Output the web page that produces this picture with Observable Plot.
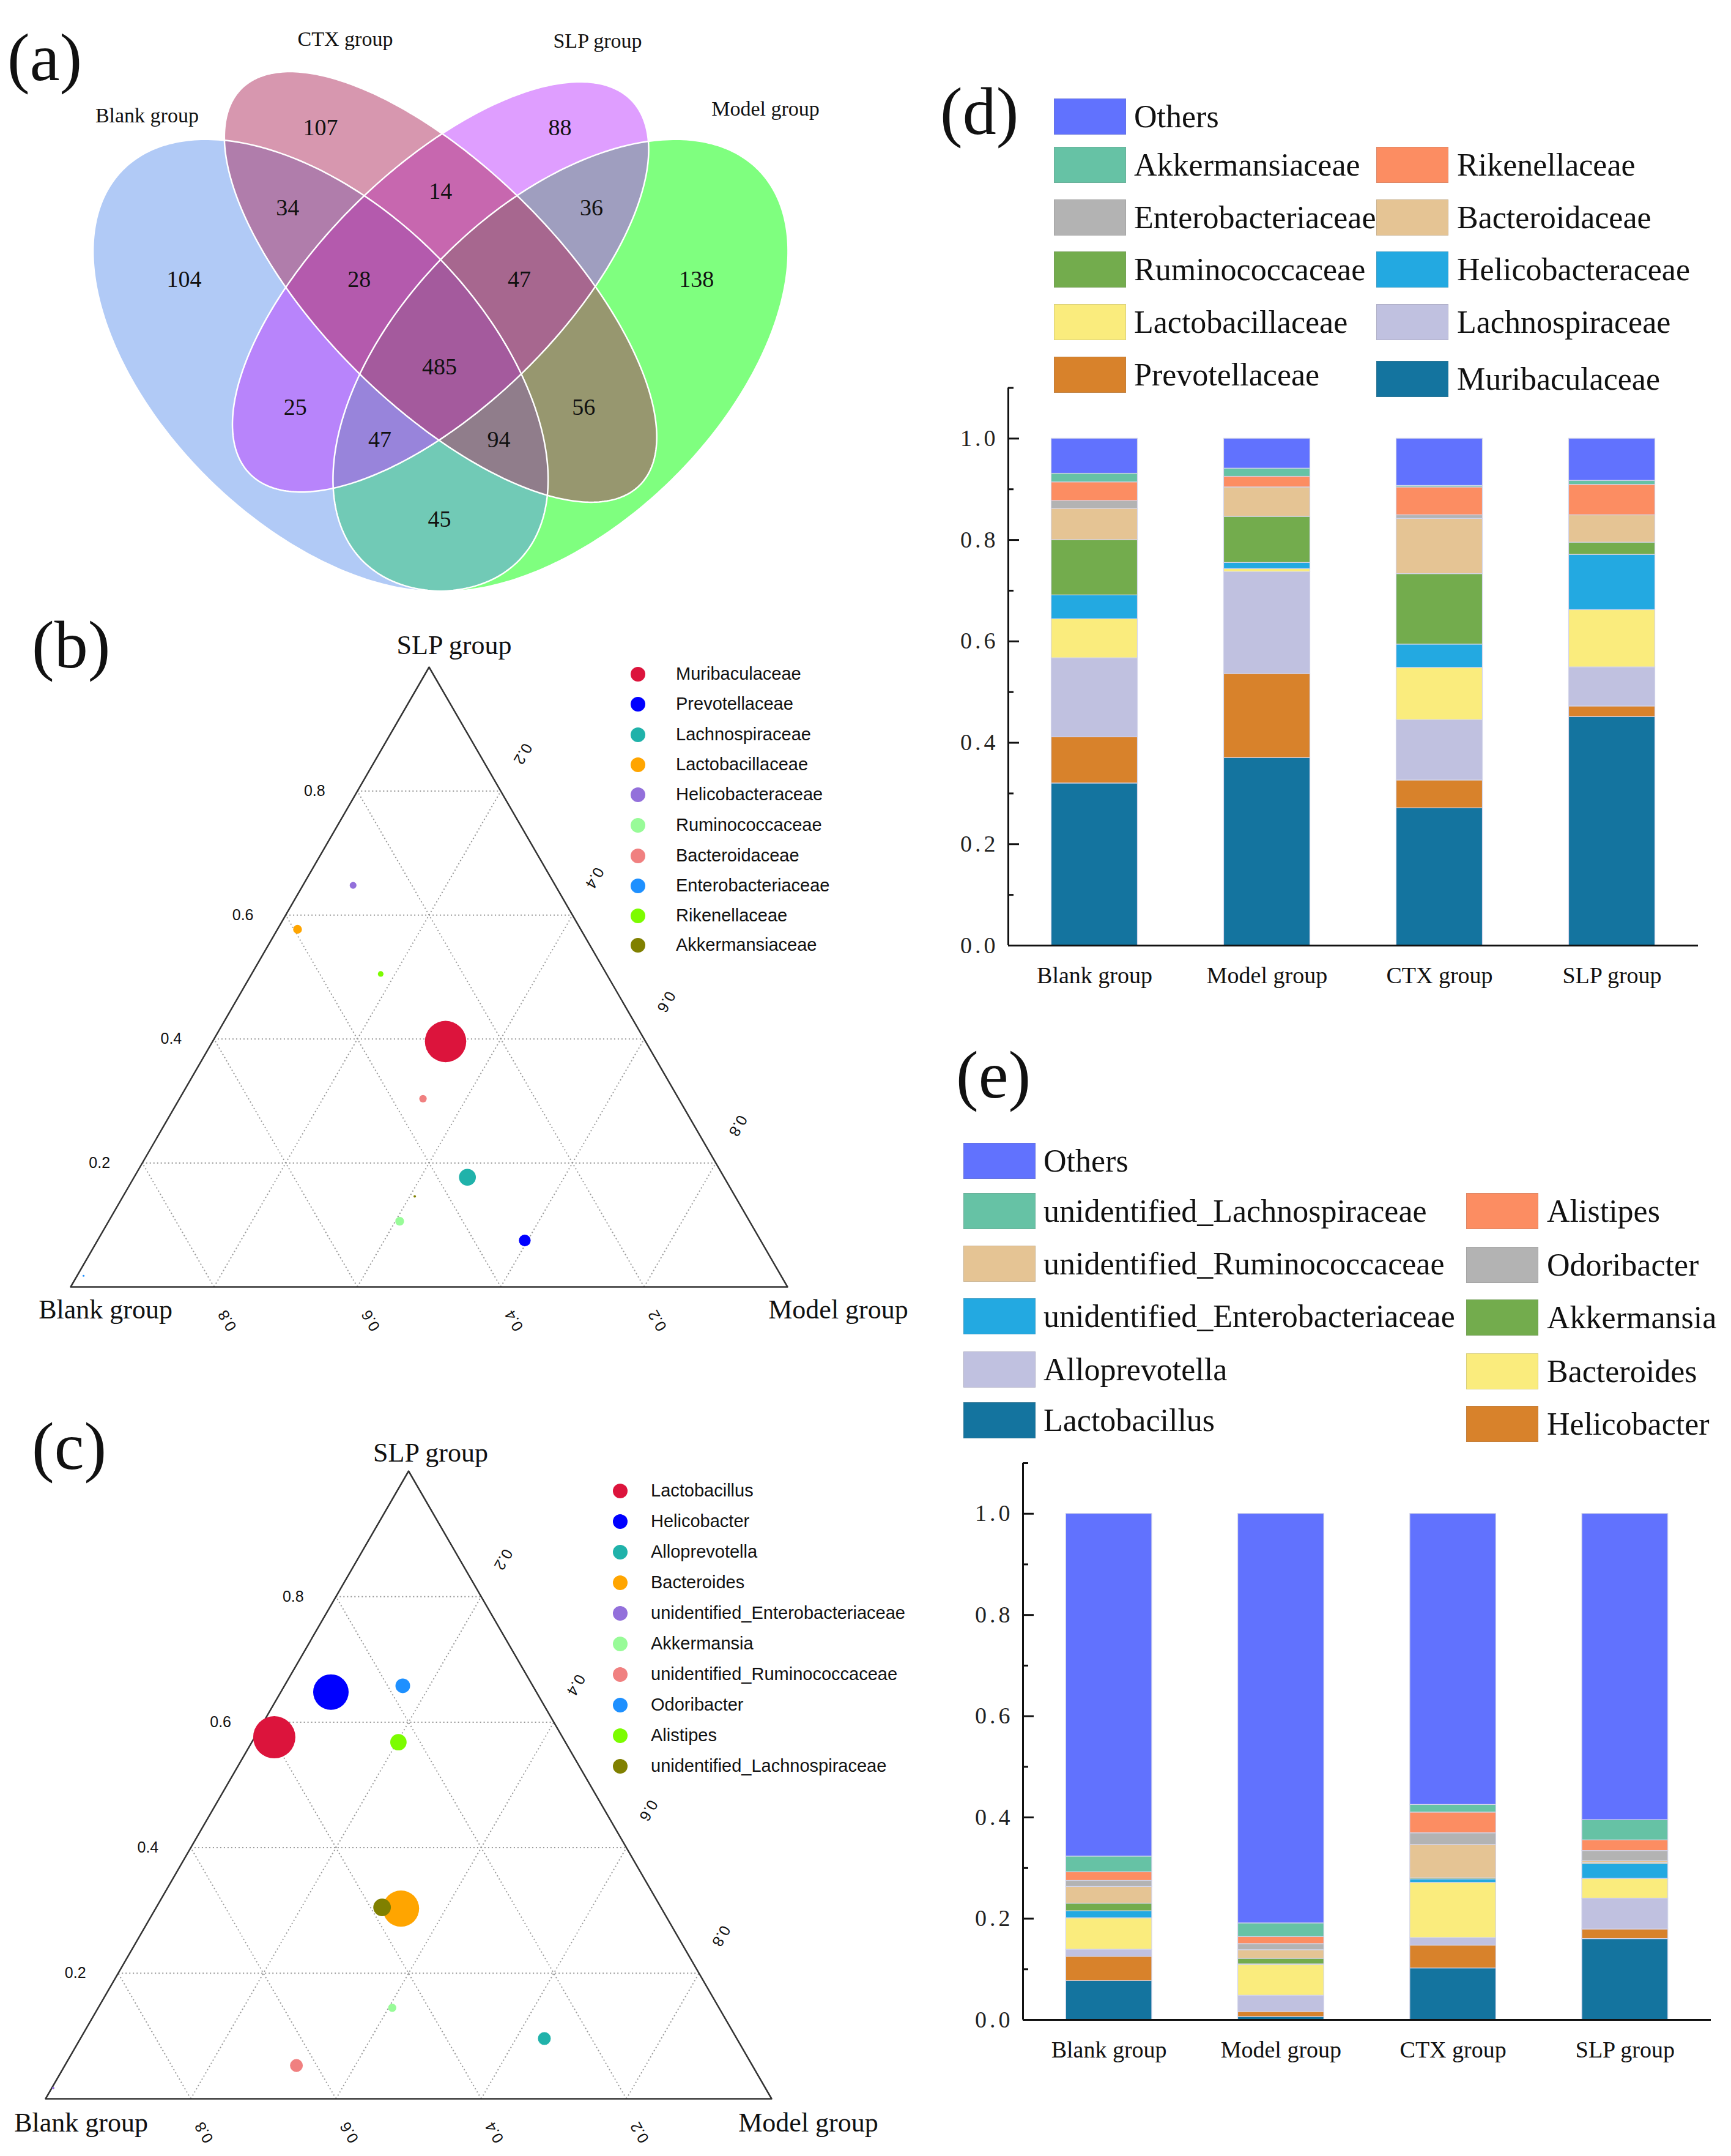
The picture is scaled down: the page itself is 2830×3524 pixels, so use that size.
<!DOCTYPE html>
<html>
<head>
<meta charset="utf-8">
<script src="https://cdn.jsdelivr.net/npm/d3@7"></script>
<script src="https://cdn.jsdelivr.net/npm/@observablehq/plot@0.6"></script>
<style>
  html, body { margin: 0; padding: 0; background: #fff; }
  #page { position: relative; width: 2830px; height: 3524px; overflow: hidden; background: #fff; }
  .letter { position: absolute; font-family: "Liberation Serif", "Times New Roman", serif; font-size: 110px; line-height: 110px; color: #111; white-space: nowrap; }
  .sw { position: absolute; box-sizing: border-box; border: 1px solid rgba(120,120,120,0.25); }
  .swtext { position: absolute; font-family: "Liberation Serif", "Times New Roman", serif; font-size: 52px; line-height: 52px; color: #111; white-space: nowrap; }
  .tdot { position: absolute; width: 24px; height: 24px; border-radius: 50%; }
  .ttext { position: absolute; font-family: "Liberation Sans", Arial, sans-serif; font-size: 29px; line-height: 29px; color: #111; white-space: nowrap; }
</style>
</head>
<body>
<div id="page"></div>
<script>
// ======================= DATA =======================
const groups = ["Blank group", "Model group", "CTX group", "SLP group"];

// (a) Venn: OTU counts per region
const vennSets = ["Blank group", "CTX group", "SLP group", "Model group"];
const vennRegions = ["Blank", "CTX", "SLP", "Model", "Blank&CTX", "CTX&SLP", "SLP&Model", "Blank&Model",
  "Blank&SLP", "CTX&Model", "Blank&CTX&SLP", "CTX&SLP&Model", "Blank&SLP&Model", "Blank&CTX&Model", "All"];
const vennCounts = [104, 107, 88, 138, 34, 14, 36, 45, 25, 56, 28, 47, 47, 94, 485];

// ternary axis tick values
const ternTicks = [0.2, 0.4, 0.6, 0.8];

// (b) ternary, family level (relative shares Blank / Model / SLP, mean abundance)
const famTernNames = ["Muribaculaceae", "Prevotellaceae", "Lachnospiraceae", "Lactobacillaceae", "Helicobacteraceae",
  "Ruminococcaceae", "Bacteroidaceae", "Enterobacteriaceae", "Rikenellaceae", "Akkermansiaceae"];
const famTernBlank = [0.279, 0.329, 0.358, 0.395, 0.282, 0.488, 0.357, 0.973, 0.315, 0.447];
const famTernModel = [0.325, 0.596, 0.465, 0.028, 0.070, 0.406, 0.340, 0.009, 0.180, 0.407];
const famTernSLP   = [0.396, 0.075, 0.177, 0.577, 0.648, 0.106, 0.304, 0.018, 0.505, 0.146];
const famTernAbund = [0.964, 0.242, 0.367, 0.170, 0.122, 0.170, 0.137, 0.003, 0.093, 0.015];

// (c) ternary, genus level
const genTernNames = ["Lactobacillus", "Helicobacter", "Alloprevotella", "Bacteroides", "unidentified_Enterobacteriaceae",
  "Akkermansia", "unidentified_Ruminococcaceae", "Odoribacter", "Alistipes", "unidentified_Lachnospiraceae"];
const genTernBlank = [0.397, 0.283, 0.265, 0.359, 0.981, 0.450, 0.628, 0.179, 0.230, 0.384];
const genTernModel = [0.027, 0.069, 0.639, 0.338, 0.002, 0.405, 0.319, 0.163, 0.202, 0.311];
const genTernSLP   = [0.576, 0.648, 0.096, 0.303, 0.017, 0.145, 0.053, 0.658, 0.568, 0.305];
const genTernAbund = [0.985, 0.821, 0.269, 0.842, 0.015, 0.155, 0.269, 0.313, 0.355, 0.385];

const ternColors = ["#DC143C", "#0000FF", "#20B2AA", "#FFA500", "#9370DB", "#98FB98", "#F08080", "#1E90FF", "#7CFC00", "#808000"];

// (d) family relative abundance, values per group [Blank, Model, CTX, SLP]; stack order bottom -> top
const famSeries = ["Muribaculaceae", "Prevotellaceae", "Lachnospiraceae", "Lactobacillaceae", "Helicobacteraceae",
  "Ruminococcaceae", "Bacteroidaceae", "Enterobacteriaceae", "Rikenellaceae", "Akkermansiaceae", "Others"];
const famMuribaculaceae     = [0.320, 0.370, 0.271, 0.451];
const famPrevotellaceae     = [0.091, 0.166, 0.055, 0.021];
const famLachnospiraceae    = [0.156, 0.201, 0.119, 0.077];
const famLactobacillaceae   = [0.077, 0.006, 0.103, 0.113];
const famHelicobacteraceae  = [0.047, 0.012, 0.046, 0.109];
const famRuminococcaceae    = [0.109, 0.091, 0.139, 0.024];
const famBacteroidaceae     = [0.062, 0.058, 0.109, 0.054];
const famEnterobacteriaceae = [0.015, 0.000, 0.007, 0.000];
const famRikenellaceae      = [0.037, 0.021, 0.055, 0.060];
const famAkkermansiaceae    = [0.017, 0.016, 0.003, 0.008];
const famOthers             = [0.069, 0.059, 0.093, 0.083];
const famColors = ["#14749F", "#D8822B", "#C0C1E0", "#FAEC7D", "#23A9E1", "#73AC4D", "#E5C494", "#B3B3B3", "#FC8D62", "#66C2A5", "#6172FE"];
const famLegendCol1 = ["Others", "Akkermansiaceae", "Enterobacteriaceae", "Ruminococcaceae", "Lactobacillaceae", "Prevotellaceae"];
const famLegendCol2 = ["Rikenellaceae", "Bacteroidaceae", "Helicobacteraceae", "Lachnospiraceae", "Muribaculaceae"];

// (e) genus relative abundance
const genSeries = ["Lactobacillus", "Helicobacter", "Alloprevotella", "Bacteroides", "unidentified_Enterobacteriaceae",
  "Akkermansia", "unidentified_Ruminococcaceae", "Odoribacter", "Alistipes", "unidentified_Lachnospiraceae", "Others"];
const genLactobacillus   = [0.077, 0.006, 0.102, 0.160];
const genHelicobacter    = [0.048, 0.010, 0.045, 0.019];
const genAlloprevotella  = [0.014, 0.032, 0.015, 0.061];
const genBacteroides     = [0.062, 0.061, 0.109, 0.039];
const genUnidEntero      = [0.014, 0.001, 0.007, 0.029];
const genAkkermansia     = [0.015, 0.011, 0.002, 0.002];
const genUnidRumino      = [0.033, 0.017, 0.066, 0.004];
const genOdoribacter     = [0.012, 0.012, 0.023, 0.020];
const genAlistipes       = [0.017, 0.014, 0.041, 0.021];
const genUnidLachno      = [0.031, 0.027, 0.015, 0.040];
const genOthers          = [0.677, 0.809, 0.575, 0.605];
const genColors = ["#14749F", "#D8822B", "#C0C1E0", "#FAEC7D", "#23A9E1", "#73AC4D", "#E5C494", "#B3B3B3", "#FC8D62", "#66C2A5", "#6172FE"];
const genLegendCol1 = ["Others", "unidentified_Lachnospiraceae", "unidentified_Ruminococcaceae", "unidentified_Enterobacteriaceae", "Alloprevotella", "Lactobacillus"];
const genLegendCol2 = ["Alistipes", "Odoribacter", "Akkermansia", "Bacteroides", "Helicobacter"];

// bar-chart y ticks
const yTicksMajor = [0, 0.2, 0.4, 0.6, 0.8, 1.0];
const yTicksMinor = [0.1, 0.3, 0.5, 0.7, 0.9, 1.1];

// ======================= LAYOUT =======================
const SERIF = "Liberation Serif, Times New Roman, serif";
const SANS = "Liberation Sans, Arial, sans-serif";
const page = document.getElementById("page");
function put(el, left, top) { el.style.position = "absolute"; el.style.left = left + "px"; el.style.top = top + "px"; page.appendChild(el); return el; }
function div(cls, text) { const d = document.createElement("div"); d.className = cls; if (text != null) d.textContent = text; return d; }

// panel letters
[["(a)", 12, 39], ["(b)", 52, 999], ["(c)", 52, 2309], ["(d)", 1537, 127], ["(e)", 1563, 1702]]
  .forEach(([t, l, tp]) => put(div("letter", t), l, tp));

// ---------- (a) Venn ----------
// ellipse geometry (Venn layout units)
const vennShapes = [
  {set: "Model group", cx: 1088, cy: 945, a: 647, b: 345, angle: 120.3, color: "#00FF00"},
  {set: "Blank group", cx: 622, cy: 945, a: 647, b: 345, angle: 59.7, color: "#6495ED"},
  {set: "SLP group", cx: 855, cy: 742, a: 615, b: 259, angle: 123.8, color: "#BF3EFF"},
  {set: "CTX group", cx: 855, cy: 742, a: 648, b: 259, angle: 56.2, color: "#B03060"}
];
const vennLabelPos = [[357, 722], [622, 330], [1087, 330], [1352, 722], [558, 538], [855, 495], [1148, 538], [853, 1343],
  [573, 1053], [1133, 1053], [697, 722], [1008, 722], [737, 1137], [968, 1137], [853, 950]];
const vennSetLabelPos = [[285, 298], [670, 100], [1160, 105], [1486, 282]];

function outline(e) {
  const pts = [], p = e.angle * Math.PI / 180;
  for (let i = 0; i < 360; i++) {
    const t = 2 * Math.PI * i / 360, ca = Math.cos(t), sa = Math.sin(t);
    pts.push({x: e.cx + e.a * ca * Math.cos(p) - e.b * sa * Math.sin(p), y: e.cy + e.a * ca * Math.sin(p) + e.b * sa * Math.cos(p)});
  }
  return pts;
}
const vennOutlines = vennShapes.map(outline);
const vennRows = vennRegions.map((r, i) => ({region: r, count: vennCounts[i], x: vennLabelPos[i][0], y: vennLabelPos[i][1]}));
const vennSetRows = vennSets.map((s, i) => ({set: s, x: vennSetLabelPos[i][0], y: vennSetLabelPos[i][1]}));

const vennPlot = Plot.plot({
  width: 1400, height: 1000, margin: 0,
  style: {background: "transparent", overflow: "visible"},
  x: {domain: [0, 1568], range: [0, 1320], axis: null},
  y: {domain: [0, 1568], range: [0, 990], axis: null},
  marks: [
    ...vennShapes.map((e, i) => Plot.line(vennOutlines[i], {x: "x", y: "y", fill: e.color, fillOpacity: 0.5, stroke: "none", curve: "linear-closed"})),
    ...vennShapes.map((e, i) => Plot.line(vennOutlines[i], {x: "x", y: "y", stroke: "white", strokeWidth: 2.5, curve: "linear-closed"})),
    Plot.text(vennRows, {x: "x", y: "y", text: "count", fontSize: 38, fontFamily: SERIF, fill: "#111"}),
    Plot.text(vennSetRows, {x: "x", y: "y", text: "set", fontSize: 34, fontFamily: SERIF, fill: "#111"})
  ]
});
put(vennPlot, 0, 0);

// ---------- (b), (c) ternary ----------
function ternaryPanel(cfg) {
  const toXY = (bl, mo, sl) => ({x: mo + sl / 2, y: sl});
  const rows = cfg.names.map((n, i) => {
    const s = cfg.blank[i] + cfg.model[i] + cfg.slp[i];
    return {name: n, abund: cfg.abund[i], ...toXY(cfg.blank[i] / s, cfg.model[i] / s, cfg.slp[i] / s)};
  });
  const verts = [toXY(1, 0, 0), toXY(0, 1, 0), toXY(0, 0, 1)];
  const grid = [];
  for (const v of ternTicks) {
    for (const [p, q] of [[toXY(1 - v, 0, v), toXY(0, 1 - v, v)], [toXY(1 - v, v, 0), toXY(0, v, 1 - v)], [toXY(v, 1 - v, 0), toXY(v, 0, 1 - v)]])
      grid.push({x1: p.x, y1: p.y, x2: q.x, y2: q.y});
  }
  const leftLab = ternTicks.map(v => ({v, ...toXY(1 - v, 0, v)}));
  const rightLab = ternTicks.map(v => ({v, ...toXY(0, v, 1 - v)}));
  const bottomLab = ternTicks.map(v => ({v, ...toXY(v, 1 - v, 0)}));
  const fmt = v => v.toFixed(1);
  const vl = cfg.vertexOffsets;
  const plot = Plot.plot({
    width: 1500, height: cfg.height, margin: 0,
    style: {background: "transparent", overflow: "visible"},
    x: {domain: [0, 1], range: cfg.xRange, axis: null},
    y: {domain: [0, 1], range: cfg.yRange, axis: null},
    r: {type: "linear", domain: [0, 1], range: [1.5, 35]},
    color: {domain: cfg.names, range: ternColors},
    marks: [
      Plot.link(grid, {x1: "x1", y1: "y1", x2: "x2", y2: "y2", stroke: "#9a9a9a", strokeWidth: 2, strokeDasharray: "2,4"}),
      Plot.line(verts, {x: "x", y: "y", curve: "linear-closed", stroke: "#333", strokeWidth: 2.5}),
      Plot.text(leftLab, {x: "x", y: "y", text: d => fmt(d.v), dx: -70, fontSize: 25, fontFamily: SANS, fill: "#111"}),
      Plot.text(rightLab, {x: "x", y: "y", text: d => fmt(d.v), dx: 36, dy: -61, rotate: 120, fontSize: 25, fontFamily: SANS, fill: "#111"}),
      Plot.text(bottomLab, {x: "x", y: "y", text: d => fmt(d.v), dx: 22, dy: 55, rotate: -120, fontSize: 25, fontFamily: SANS, fill: "#111"}),
      Plot.text([verts[2]], {x: "x", y: "y", text: () => "SLP group", dx: vl[0][0], dy: vl[0][1], fontSize: 44, fontFamily: SERIF, fill: "#111"}),
      Plot.text([verts[0]], {x: "x", y: "y", text: () => "Blank group", dx: vl[1][0], dy: vl[1][1], fontSize: 44, fontFamily: SERIF, fill: "#111"}),
      Plot.text([verts[1]], {x: "x", y: "y", text: () => "Model group", dx: vl[2][0], dy: vl[2][1], fontSize: 44, fontFamily: SERIF, fill: "#111"}),
      Plot.dot(rows, {x: "x", y: "y", r: "abund", fill: "name", stroke: "none"})
    ]
  });
  put(plot, 0, cfg.top);
  // legend
  cfg.names.forEach((n, i) => {
    const y = cfg.legendRows[i];
    const d = put(div("tdot"), cfg.legendDotX - 12, y - 12);
    d.style.background = ternColors[i];
    put(div("ttext", n), cfg.legendTextX, y - 15);
  });
}

ternaryPanel({
  names: famTernNames, blank: famTernBlank, model: famTernModel, slp: famTernSLP, abund: famTernAbund,
  top: 1000, height: 1230, xRange: [115, 1287], yRange: [1103, 90],
  vertexOffsets: [[41, -36], [57, 37], [83, 37]],
  legendDotX: 1043, legendTextX: 1105,
  legendRows: [1102, 1151, 1201, 1250, 1299, 1349, 1399, 1448, 1497, 1545]
});
ternaryPanel({
  names: genTernNames, blank: genTernBlank, model: genTernModel, slp: genTernSLP, abund: genTernAbund,
  top: 2300, height: 1224, xRange: [74, 1261], yRange: [1130, 104],
  vertexOffsets: [[36, -30], [58, 39], [60, 39]],
  legendDotX: 1014, legendTextX: 1064,
  legendRows: [2437, 2487, 2537, 2587, 2637, 2687, 2737, 2787, 2837, 2887]
});

// ---------- (d), (e) stacked bars ----------
function barPanel(cfg) {
  const rows = [];
  groups.forEach((g, gi) => {
    let acc = 0;
    cfg.series.forEach((s, si) => {
      const v = cfg.values[si][gi];
      rows.push({group: g, gi, series: s, y1: acc, y2: acc + v});
      acc += v;
    });
  });
  const fw = cfg.width - cfg.marginLeft - cfg.marginRight;
  const plot = Plot.plot({
    width: cfg.width, height: cfg.height,
    marginLeft: cfg.marginLeft, marginRight: cfg.marginRight, marginTop: cfg.marginTop, marginBottom: cfg.marginBottom,
    style: {background: "transparent", overflow: "visible"},
    x: {domain: [-0.5, 3.5], axis: null},
    y: {domain: [0, 1.1], axis: null},
    color: {domain: cfg.series, range: cfg.colors},
    marks: [
      Plot.rect(rows, {x1: d => d.gi - 0.25, x2: d => d.gi + 0.25, y1: "y1", y2: "y2", fill: "series", stroke: "#d3d5ea", strokeWidth: 1.2}),
      Plot.tickY(yTicksMinor, {y: d => d, insetRight: fw - 9, stroke: "#111", strokeWidth: 3}),
      Plot.tickY(yTicksMajor, {y: d => d, insetRight: fw - 18, stroke: "#111", strokeWidth: 3}),
      Plot.ruleX([-0.5], {y1: 0, y2: 1.1, stroke: "#111", strokeWidth: 3}),
      Plot.ruleY([0], {x1: -0.5, x2: 3.5, stroke: "#111", strokeWidth: 3}),
      Plot.text(yTicksMajor, {x: -0.5, y: d => d, text: d => d.toFixed(1), textAnchor: "end", dx: -16, fontSize: 38, fontFamily: SERIF, fill: "#222"}),
      Plot.text(groups, {x: (d, i) => i, y: 0, dy: 49, text: d => d, fontSize: 38, fontFamily: SERIF, fill: "#111"})
    ]
  });
  plot.querySelectorAll("text").forEach(t => { if (/^\d\.\d$/.test(t.textContent)) t.setAttribute("letter-spacing", "5"); });
  put(plot, cfg.left, cfg.top);
  // legend
  const colorOf = s => cfg.colors[cfg.series.indexOf(s)];
  const addItem = (name, x, y, tx) => {
    const sw = put(div("sw"), x, y);
    sw.style.width = "118px"; sw.style.height = "59px"; sw.style.background = colorOf(name);
    put(div("swtext", name), tx, y + 4);
  };
  cfg.legendCol1.forEach((n, i) => addItem(n, cfg.leg1X, cfg.leg1Rows[i], cfg.leg1X + 131));
  cfg.legendCol2.forEach((n, i) => addItem(n, cfg.leg2X, cfg.leg2Rows[i], cfg.leg2X + 132));
}

barPanel({
  series: famSeries, colors: famColors,
  values: [famMuribaculaceae, famPrevotellaceae, famLachnospiraceae, famLactobacillaceae, famHelicobacteraceae,
    famRuminococcaceae, famBacteroidaceae, famEnterobacteriaceae, famRikenellaceae, famAkkermansiaceae, famOthers],
  left: 1500, top: 600, width: 1330, height: 1050,
  marginLeft: 148, marginRight: 54, marginTop: 33.5, marginBottom: 105,
  legendCol1: famLegendCol1, legendCol2: famLegendCol2,
  leg1X: 1723, leg1Rows: [161, 240, 326, 411, 497, 583],
  leg2X: 2250, leg2Rows: [240, 326, 411, 497, 590]
});
barPanel({
  series: genSeries, colors: genColors,
  values: [genLactobacillus, genHelicobacter, genAlloprevotella, genBacteroides, genUnidEntero,
    genAkkermansia, genUnidRumino, genOdoribacter, genAlistipes, genUnidLachno, genOthers],
  left: 1500, top: 2350, width: 1330, height: 1174,
  marginLeft: 172, marginRight: 33, marginTop: 41, marginBottom: 223,
  legendCol1: genLegendCol1, legendCol2: genLegendCol2,
  leg1X: 1575, leg1Rows: [1868, 1950, 2036, 2122, 2209, 2292],
  leg2X: 2397, leg2Rows: [1950, 2038, 2124, 2212, 2298]
});
</script>
</body>
</html>
